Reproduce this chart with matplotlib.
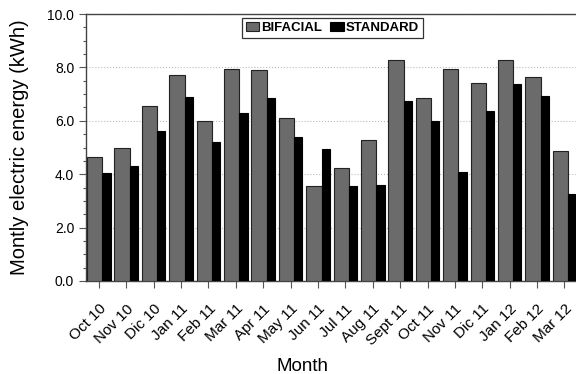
import numpy as np
import matplotlib
matplotlib.use("Agg")
import matplotlib.pyplot as plt
from matplotlib.ticker import MultipleLocator, FormatStrFormatter

plt.rcParams['font.family'] = ['Liberation Sans', 'DejaVu Sans']

meses = ["Oct 10", "Nov 10", "Dic 10", "Jan 11", "Feb 11", "Mar 11", "Apr 11",
         "May 11", "Jun 11", "Jul 11", "Aug 11", "Sept 11", "Oct 11", "Nov 11",
         "Dic 11", "Jan 12", "Feb 12", "Mar 12"]
bifacial = [4.63, 4.97, 6.54, 7.72, 5.98, 7.94, 7.92, 6.12, 3.55, 4.22, 5.27,
            8.27, 6.87, 7.95, 7.40, 8.28, 7.63, 4.87]
standard = [4.03, 4.31, 5.63, 6.90, 5.22, 6.28, 6.87, 5.38, 4.94, 3.57, 3.61,
            6.73, 6.00, 4.09, 6.37, 7.38, 6.94, 3.27]

x = np.arange(len(meses))

fig = plt.figure(figsize=(5.76, 3.74), dpi=100)
ax = fig.add_axes([86/576, 1 - 281/374, 493/576, 267/374])

# barra cinza mais larga, preta mais estreita, lado a lado
ax.bar(x - 0.43, bifacial, width=0.56, align='edge', color='#6b6b6b',
       edgecolor='#222222', linewidth=0.8, label='BIFACIAL', zorder=3)
ax.bar(x + 0.13, standard, width=0.30, align='edge', color='black',
       edgecolor='black', linewidth=0.8, label='STANDARD', zorder=3)

ax.set_xlim(-0.47, 17.53)
ax.set_ylim(0, 10)
ax.yaxis.set_major_locator(MultipleLocator(2))
ax.yaxis.set_minor_locator(MultipleLocator(0.5))
ax.yaxis.set_major_formatter(FormatStrFormatter('%.1f'))
ax.grid(axis='y', which='major', linestyle=':', color='#bbbbbb', linewidth=0.8, zorder=0)

ax.set_xticks(x)
ax.set_xticklabels(meses, rotation=45, ha='right', rotation_mode='anchor')
ax.tick_params(axis='x', length=5, width=0.8, color='#555555', labelsize=11, pad=10)
ax.tick_params(axis='y', which='major', length=5, width=0.8, color='#555555', labelsize=10)
ax.tick_params(axis='y', which='minor', length=2.5, width=0.8, color='#555555')

for s in ['top', 'left', 'bottom']:
    ax.spines[s].set_color('#444444')
    ax.spines[s].set_linewidth(1.0)
ax.spines['right'].set_visible(False)

ax.set_ylabel('Montly electric energy (kWh)', fontsize=14.5)
ax.yaxis.set_label_coords(-0.115, 0.5)
ax.set_xlabel('Month', fontsize=13.5)
ax.xaxis.set_label_coords(0.44, -0.29)

leg = ax.legend(loc='upper center', ncol=2, frameon=True, fancybox=False,
                edgecolor='black', handlelength=1.0, handleheight=0.7,
                handletextpad=0.15, columnspacing=0.6, borderpad=0.3,
                borderaxespad=0.3, prop={'weight': 'bold', 'size': 9.5})
leg.get_frame().set_linewidth(0.9)

fig.savefig('out.png', dpi=100)
